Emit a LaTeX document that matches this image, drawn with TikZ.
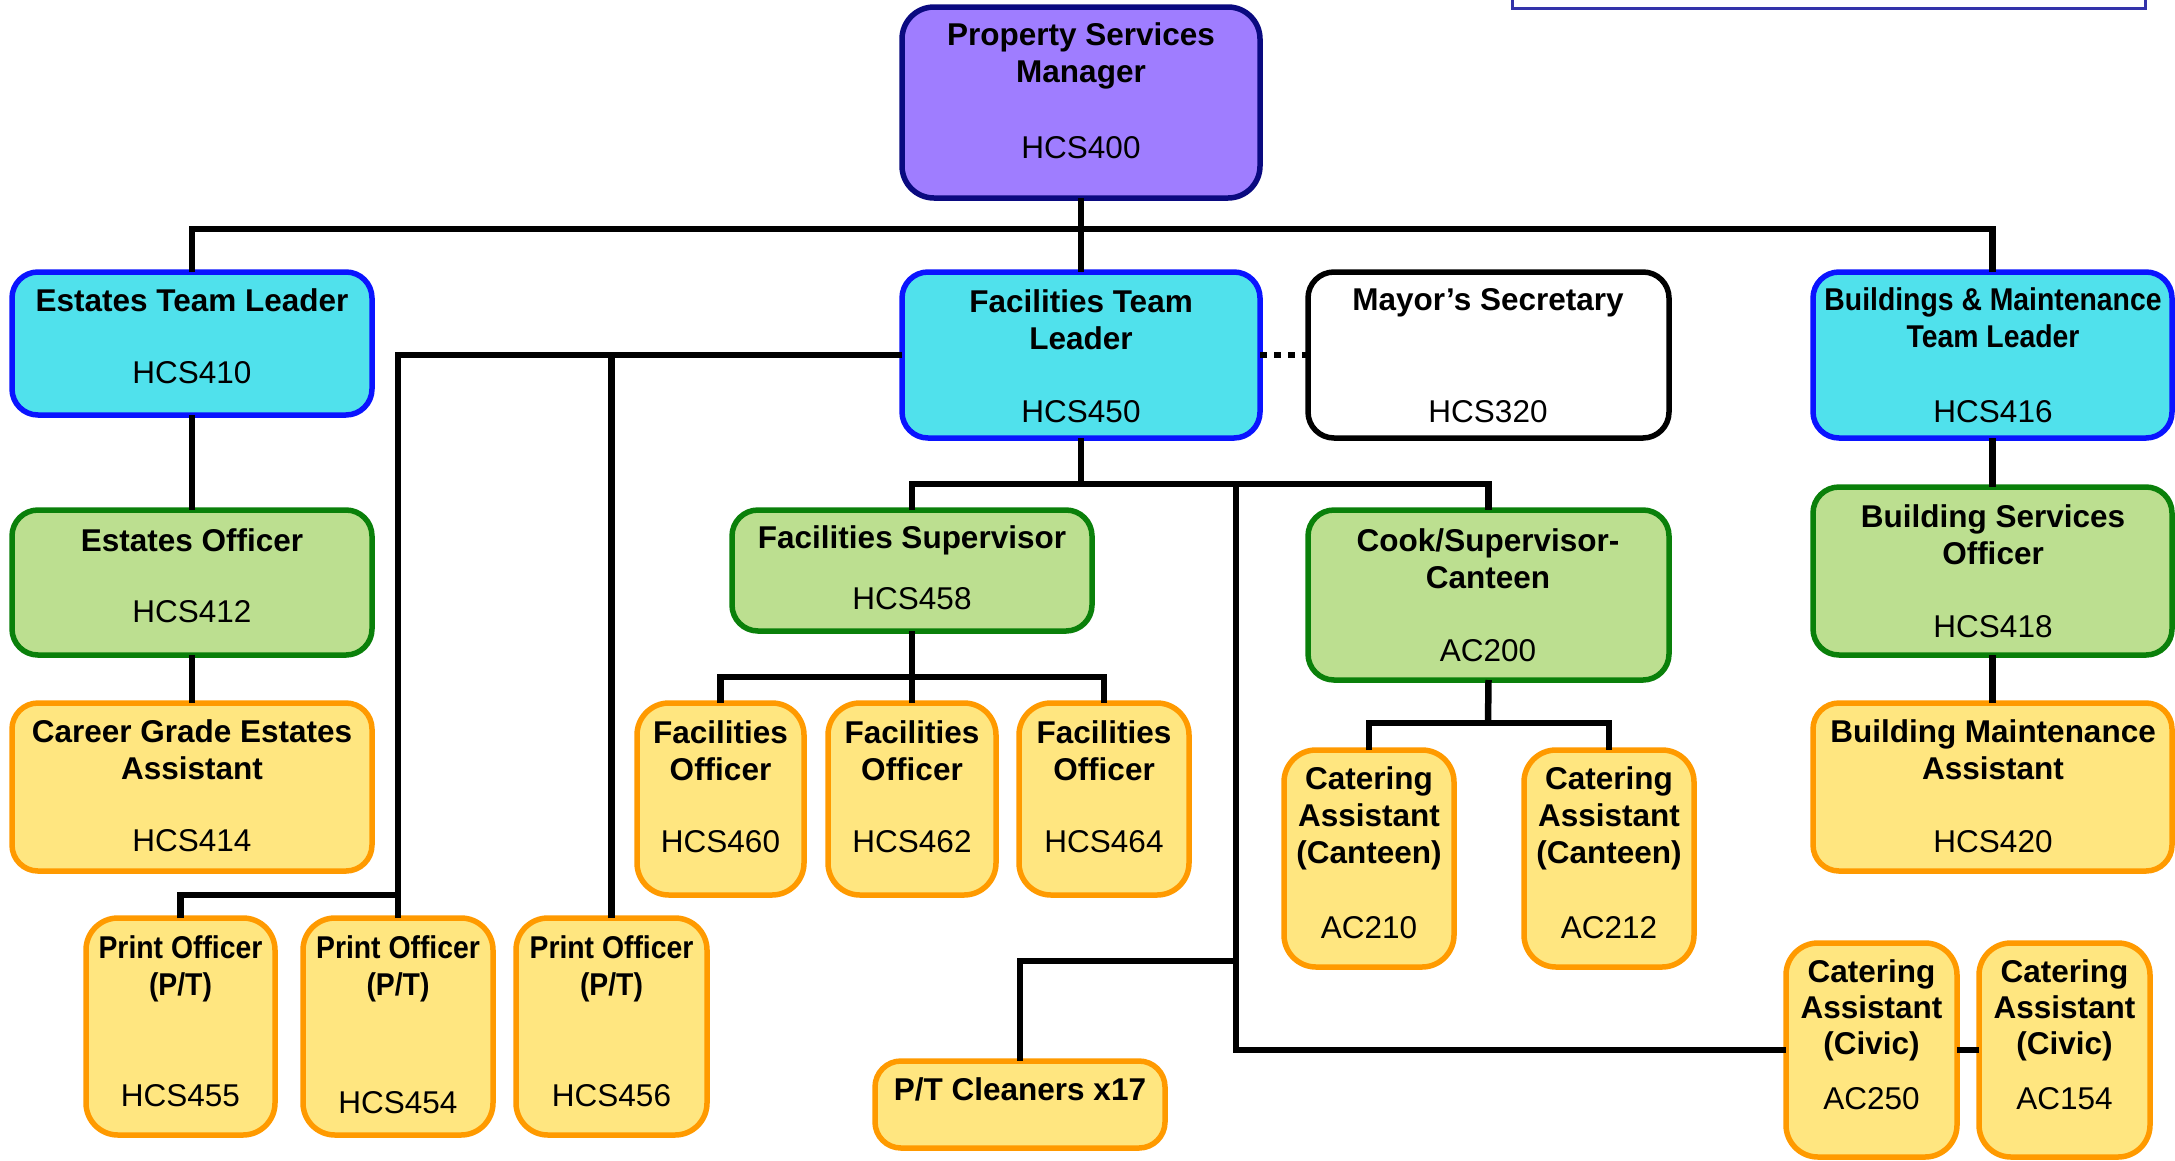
\documentclass[tikz,border=0pt]{standalone}
\usepackage{fontspec}
\setmainfont{Liberation Sans}
\usepackage{graphicx}
\definecolor{psmfill}{HTML}{9F7DFF}
\definecolor{psmdraw}{HTML}{0A0A80}
\definecolor{cyfill}{HTML}{50E1EC}
\definecolor{cydraw}{HTML}{0A14FF}
\definecolor{grfill}{HTML}{BCDF90}
\definecolor{grdraw}{HTML}{0A800A}
\definecolor{yefill}{HTML}{FFE680}
\definecolor{yedraw}{HTML}{FF9A00}
\definecolor{topblue}{HTML}{3333AA}
\newcommand\orgnode[6]{\node[#2, minimum width={(#5-#3)*1pt}, minimum height={(#6-#4)*1pt}] (#1) at ({(#3+#5)/2},{(#4+#6)/2}) {};}
\tikzset{
  orgbox/.style={rectangle, rounded corners=26pt, line width=5.5pt, inner sep=0pt, outer sep=0pt},
  purplebox/.style={orgbox, fill=psmfill, draw=psmdraw, rounded corners=32pt},
  cyanbox/.style={orgbox, fill=cyfill, draw=cydraw},
  greenbox/.style={orgbox, fill=grfill, draw=grdraw},
  yellowbox/.style={orgbox, fill=yefill, draw=yedraw},
  narrowbox/.style={yellowbox, rounded corners=32pt},
  whitebox/.style={orgbox, fill=white, draw=black},
  ttl/.style={font=\bfseries\fontsize{31.5}{37}\selectfont, align=center, inner sep=0pt},
  code/.style={font=\fontsize{31.5}{37}\selectfont, inner sep=0pt},
  sttl/.style={font=\bfseries\fontsize{31.5}{36}\selectfont, align=center, inner sep=0pt},
  conn/.style={line width=6.5pt, black},
  dotconn/.style={line width=6.5pt, black, dash pattern=on 7pt off 7pt}
}
\begin{document}
\begin{tikzpicture}[x=1pt,y=-1pt]
\useasboundingbox (0,0) rectangle (2175,1160);
% partial box at top right
\draw[line width=3pt, draw=topblue, fill=white] (1512,-20) rectangle (2145,8);

% connector junctions
\coordinate (bus) at (1081,229);
\coordinate (pj) at (398,355);
\coordinate (pbus) at (398,895);
\coordinate (fbus) at (1081,484);
\coordinate (cj) at (1236,484);
\coordinate (clj) at (1236,961);
\coordinate (fsb) at (912,677);
\coordinate (ckb) at (1488,723);

% boxes
\orgnode{psm}{purplebox}{902}{7}{1260}{198}
\orgnode{etl}{cyanbox}{12}{272}{372}{415}
\orgnode{ftl}{cyanbox}{902}{272}{1260}{438}
\orgnode{ms}{whitebox}{1308}{272}{1669}{438}
\orgnode{bmtl}{cyanbox}{1813}{272}{2172}{438}
\orgnode{eo}{greenbox}{12}{510}{372}{655}
\orgnode{cgea}{yellowbox}{12}{703}{372}{871}
\orgnode{fs}{greenbox}{732}{510}{1092}{631}
\orgnode{cook}{greenbox}{1308}{510}{1669}{680}
\orgnode{bso}{greenbox}{1813}{487}{2172}{655}
\orgnode{bma}{yellowbox}{1813}{703}{2172}{871}
\orgnode{fo1}{narrowbox}{637}{703}{804}{895}
\orgnode{fo2}{narrowbox}{828}{703}{996}{895}
\orgnode{fo3}{narrowbox}{1019}{703}{1189}{895}
\orgnode{ca1}{narrowbox}{1284}{750}{1454}{967}
\orgnode{ca2}{narrowbox}{1524}{750}{1694}{967}
\orgnode{po1}{narrowbox}{86}{918}{275}{1135}
\orgnode{po2}{narrowbox}{303}{918}{493}{1135}
\orgnode{po3}{narrowbox}{516}{918}{707}{1135}
\orgnode{clean}{yellowbox}{875}{1061}{1165}{1148}
\orgnode{civ1}{narrowbox}{1786}{943}{1957}{1157}
\orgnode{civ2}{narrowbox}{1979}{943}{2150}{1157}

% connectors
\draw[conn] (psm.south) -- (ftl.north);
\draw[conn] (etl.north) -- (etl.north |- bus) -- (bmtl.north |- bus) -- (bmtl.north);
\draw[conn] (etl.south) -- (eo.north);
\draw[conn] (eo.south) -- (cgea.north);
\draw[conn] (bmtl.south) -- (bso.north);
\draw[conn] (bso.south) -- (bma.north);
\draw[dotconn] (ftl.east) -- (ms.west);
\draw[conn] (ftl.west) -- (pj) -- (po2.north);
\draw[conn] (po1.north) |- (pbus);
\draw[conn] (po3.north) -- (po3.north |- pj);
\draw[conn] (ftl.south) -- (fbus);
\draw[conn] (fs.north) |- (cook.north |- fbus) -- (cook.north);
\draw[conn] (cj) |- (civ1.west);
\draw[conn] (clj) -| (clean.north);
\draw[conn] (civ1.east) -- (civ2.west);
\draw[conn] (fs.south) -- (fsb);
\draw[conn] (fo1.north) |- (fo3.north |- fsb) -- (fo3.north);
\draw[conn] (fo2.north) -- (fo2.north |- fsb);
\draw[conn] (cook.south) -- (ckb);
\draw[conn] (ca1.north) |- (ca2.north |- ckb) -- (ca2.north);

% texts
\node[ttl] (psm-t) at (1081,56) {Property Services\\Manager};
\node[code] (psm-c) at (1081,148) {HCS400};
\node[ttl] (etl-t) at (192,300) {Estates Team Leader};
\node[code] (etl-c) at (192,373) {HCS410};
\node[ttl] (ftl-t) at (1081,320) {Facilities Team\\Leader};
\node[code] (ftl-c) at (1081,412) {HCS450};
\node[ttl] (ms-t) at (1488,303) {Mayor’s Secretary};
\node[code] (ms-c) at (1488,412) {HCS320};
\node[ttl] (bmtl-t) at (1993,318) {\scalebox{0.9}[1]{Buildings \& Maintenance}\\\scalebox{0.9}[1]{Team Leader}};
\node[code] (bmtl-c) at (1993,412) {HCS416};
\node[ttl] (eo-t) at (192,540) {Estates Officer};
\node[code] (eo-c) at (192,612) {HCS412};
\node[ttl] (cgea-t) at (192,750) {Career Grade Estates\\Assistant};
\node[code] (cgea-c) at (192,841) {HCS414};
\node[ttl] (fs-t) at (912,540) {Facilities Supervisor};
\node[code] (fs-c) at (912,599) {HCS458};
\node[ttl] (cook-t) at (1488,559) {Cook/Supervisor-\\Canteen};
\node[code] (cook-c) at (1488,651) {AC200};
\node[ttl] (bso-t) at (1993,535) {Building Services\\Officer};
\node[code] (bso-c) at (1993,627) {HCS418};
\node[ttl] (bma-t) at (1993,750) {Building Maintenance\\Assistant};
\node[code] (bma-c) at (1993,842) {HCS420};
\node[ttl] (fo1-t) at (fo1 |- 0,751) {Facilities\\Officer};
\node[code] (fo1-c) at (fo1 |- 0,842) {HCS460};
\node[ttl] (fo2-t) at (fo2 |- 0,751) {Facilities\\Officer};
\node[code] (fo2-c) at (fo2 |- 0,842) {HCS462};
\node[ttl] (fo3-t) at (fo3 |- 0,751) {Facilities\\Officer};
\node[code] (fo3-c) at (fo3 |- 0,842) {HCS464};
\node[ttl] (ca1-t) at (ca1 |- 0,818) {Catering\\Assistant\\(Canteen)};
\node[code] (ca1-c) at (ca1 |- 0,928) {AC210};
\node[ttl] (ca2-t) at (ca2 |- 0,818) {Catering\\Assistant\\(Canteen)};
\node[code] (ca2-c) at (ca2 |- 0,928) {AC212};
\node[ttl] (po1-t) at (po1 |- 0,969) {\scalebox{0.9}[1]{Print Officer}\\\scalebox{0.9}[1]{(P/T)}};
\node[code] (po1-c) at (po1 |- 0,1096) {HCS455};
\node[ttl] (po2-t) at (po2 |- 0,969) {\scalebox{0.9}[1]{Print Officer}\\\scalebox{0.9}[1]{(P/T)}};
\node[code] (po2-c) at (po2 |- 0,1103) {HCS454};
\node[ttl] (po3-t) at (po3 |- 0,969) {\scalebox{0.9}[1]{Print Officer}\\\scalebox{0.9}[1]{(P/T)}};
\node[code] (po3-c) at (po3 |- 0,1096) {HCS456};
\node[ttl] (clean-t) at (clean |- 0,1089) {P/T Cleaners x17};
\node[sttl] (civ1-t) at (civ1 |- 0,1010) {Catering\\Assistant\\(Civic)};
\node[code] (civ1-c) at (civ1 |- 0,1099) {AC250};
\node[sttl] (civ2-t) at (civ2 |- 0,1010) {Catering\\Assistant\\(Civic)};
\node[code] (civ2-c) at (civ2 |- 0,1099) {AC154};
\end{tikzpicture}
\end{document}
